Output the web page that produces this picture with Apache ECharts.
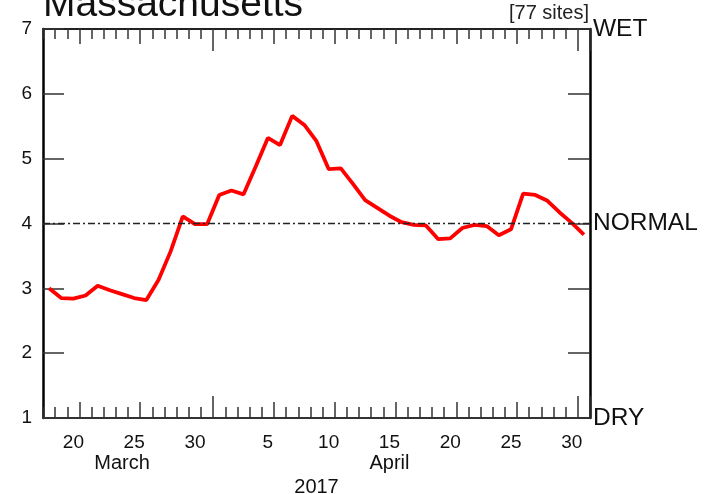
<!DOCTYPE html>
<html>
<head>
<meta charset="utf-8">
<script src="https://cdn.jsdelivr.net/npm/echarts@6/dist/echarts.min.js"></script>
<style>
html,body{margin:0;padding:0;background:#fff;}
#chart{width:708px;height:494px;}
</style>
</head>
<body>
<div id="chart"></div>
<script>
// Daily dates (month/day)
var days = ['3/18','3/19','3/20','3/21','3/22','3/23','3/24','3/25','3/26','3/27','3/28','3/29','3/30','3/31',
  '4/1','4/2','4/3','4/4','4/5','4/6','4/7','4/8','4/9','4/10','4/11','4/12','4/13','4/14','4/15','4/16',
  '4/17','4/18','4/19','4/20','4/21','4/22','4/23','4/24','4/25','4/26','4/27','4/28','4/29','4/30','5/1'];
// Soil moisture index values
var values = [3.00,2.85,2.84,2.89,3.04,2.97,2.91,2.85,2.82,3.13,3.57,4.11,3.99,3.99,
  4.44,4.51,4.45,4.88,5.32,5.21,5.66,5.52,5.27,4.84,4.85,4.61,4.36,4.24,4.12,4.02,
  3.98,3.97,3.76,3.77,3.93,3.98,3.96,3.82,3.91,4.46,4.44,4.35,4.17,4.01,3.83];
var yTicks = [1,2,3,4,5,6,7];
var rightLabels = {7:'WET', 4:'NORMAL', 1:'DRY'};
var monthNames = ['March','April'];
var monthLabelAt = ['3/24','4/15'];
var yearLabel = '2017';
var normalValue = 4;
var titleText = 'Massachusetts';
var sitesText = '[77 sites]';

var FONT = 'Liberation Sans, Arial, Helvetica, sans-serif';
function dayOf(s){ return parseInt(s.split('/')[1], 10); }
function isMedium(i){ var d = dayOf(days[i]); return [6,11,16,21,26].indexOf(d) >= 0; }
function isTall(i){ return dayOf(days[i]) === 1; }

function baseX(pos, extra){
  var o = {
    type:'category', data: days, position: pos, boundaryGap: true,
    axisLine:{show:false}, axisLabel:{show:false}, splitLine:{show:false},
    axisTick:{show:false}
  };
  for (var k in extra) o[k] = extra[k];
  return o;
}

var chart = echarts.init(document.getElementById('chart'), null, {renderer:'canvas'});
var option = {
  animation:false,
  backgroundColor:'#fff',
  title:[
    {text:titleText, left:38, top:-19, textStyle:{fontFamily:FONT, fontSize:39, fontWeight:'normal', color:'#111'}},
    {text:sitesText, right:114, top:-2, textStyle:{fontFamily:FONT, fontSize:20, fontWeight:'normal', color:'#222'}}
  ],
  grid:{left:43, right:118, top:29, bottom:76, containLabel:false, outerBoundsMode:'none'},
  xAxis:[
    baseX('bottom', {
      axisLine:{show:true, onZero:false, lineStyle:{color:'#333', width:2}},
      axisTick:{show:true, inside:true, length:11, interval:0, lineStyle:{color:'#333', width:1.5}},
      axisLabel:{show:true, margin:15, fontFamily:FONT, fontSize:19, color:'#111',
        interval:function(i){ return dayOf(days[i]) % 5 === 0; },
        formatter:function(v){ return String(dayOf(v)); }}
    }),
    baseX('bottom', {axisTick:{show:true, inside:true, length:16, interval:function(i){return isMedium(i);}, lineStyle:{color:'#333', width:1.5}}}),
    baseX('bottom', {
      axisTick:{show:true, inside:true, length:22, interval:function(i){return isTall(i);}, lineStyle:{color:'#333', width:1.5}},
      axisLabel:{show:true, margin:35, fontFamily:FONT, fontSize:20, color:'#111',
        interval:function(i){ return monthLabelAt.indexOf(days[i]) >= 0; },
        formatter:function(v){ var k = monthLabelAt.indexOf(v); return k >= 0 ? monthNames[k] : ''; }},
      name:yearLabel, nameLocation:'middle', nameGap:57,
      nameTextStyle:{fontFamily:FONT, fontSize:20, color:'#111'}
    }),
    baseX('top', {
      axisLine:{show:true, onZero:false, lineStyle:{color:'#222', width:2}},
      axisTick:{show:true, inside:true, length:10, interval:0, lineStyle:{color:'#333', width:1.5}}
    }),
    baseX('top', {axisTick:{show:true, inside:true, length:15, interval:function(i){return isMedium(i);}, lineStyle:{color:'#333', width:1.5}}}),
    baseX('top', {axisTick:{show:true, inside:true, length:22, interval:function(i){return isTall(i);}, lineStyle:{color:'#333', width:1.5}}})
  ],
  yAxis:[
    {type:'value', min:yTicks[0], max:yTicks[yTicks.length-1], interval:1, position:'left',
      axisLine:{show:true, onZero:false, lineStyle:{color:'#000', width:2.5}},
      axisTick:{show:true, inside:true, length:21, lineStyle:{color:'#333', width:1.5}},
      axisLabel:{show:true, margin:11, fontFamily:FONT, fontSize:19, color:'#111'},
      splitLine:{show:false}},
    {type:'value', min:yTicks[0], max:yTicks[yTicks.length-1], interval:1, position:'right',
      axisLine:{show:true, onZero:false, lineStyle:{color:'#000', width:2.5}},
      axisTick:{show:true, inside:true, length:22, lineStyle:{color:'#333', width:1.5}},
      axisLabel:{show:true, margin:3, fontFamily:FONT, fontSize:24.5, color:'#111',
        formatter:function(v){ return rightLabels[v] || ''; }},
      splitLine:{show:false}}
  ],
  series:[
    {type:'line', data:values, xAxisIndex:0, yAxisIndex:0, symbol:'none', smooth:false,
      lineStyle:{color:'#ff0000', width:3.8},
      markLine:{silent:true, symbol:['none','none'], label:{show:false},
        lineStyle:{color:'#222', width:1.4, type:[7,3,2,3]},
        data:[{yAxis:normalValue}]},
      z:3}
  ]
};
chart.setOption(option);
</script>
</body>
</html>
